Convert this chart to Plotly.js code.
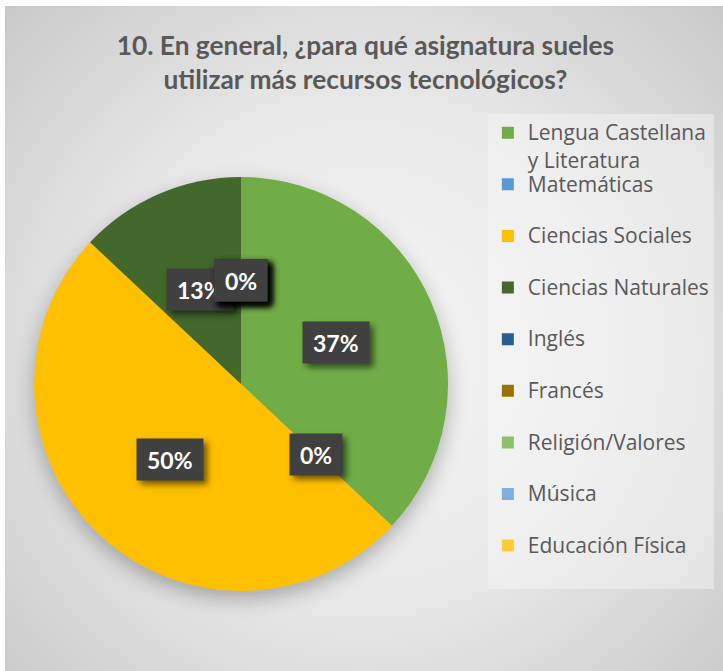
<!DOCTYPE html>
<html>
<head>
<meta charset="utf-8">
<script src="https://cdn.plot.ly/plotly-3.0.1.min.js"></script>
<style>
  html, body { margin: 0; padding: 0; background: #ffffff; }
  #chart {
    position: absolute; left: 5px; top: 6px; width: 718px; height: 665px;
    background: radial-gradient(ellipse 75% 80% at 50% 52%, #f6f6f6 0%, #e9e9e9 45%, #d2d2d2 80%, #c4c4c4 100%);
  }
  #chart .pielayer { filter: drop-shadow(0px 8px 10px rgba(0,0,0,0.28)); }
  #chart .annotation-text-g rect.bg { filter: drop-shadow(4px 4px 3px rgba(0,0,0,0.55)); }
</style>
</head>
<body>
<div id="chart"></div>
<script>
// ---- data ----
var categories = [
  "Lengua Castellana<br>y Literatura",
  "Matemáticas",
  "Ciencias Sociales",
  "Ciencias Naturales",
  "Inglés",
  "Francés",
  "Religión/Valores",
  "Música",
  "Educación Física"
];
var values = [37, 0, 50, 13, 0, 0, 0, 0, 0];
var colors = ["#70AD47", "#5B9BD5", "#FFC000", "#43682B", "#255E91", "#997300", "#8CC168", "#7CAFDD", "#FFCD33"];
var titleText = "10. En general, ¿para qué asignatura sueles<br>utilizar más recursos tecnológicos?";

// ---- geometry ----
var W = 718, H = 665;
var cx = 236, cyTop = 378, R = 207;
var cyUp = H - cyTop;
var domX = [(cx - R) / W, (cx + R) / W];
var domY = [(cyUp - R) / H, (cyUp + R) / H];

// legend labels: larger glyphs via span, blank second line for spacing
function big(s) { return "<span style='font-size:21px'>" + s + "</span>"; }
var legendLabels = categories.map(function (c) {
  var parts = c.split("<br>");
  if (parts.length > 1) {
    // wrapped label: push the second line a little lower
    return big(parts[0]) + "<br><sub>" + big(parts[1]) + "</sub>";
  }
  return big(c) + "<br> ";
});

var total = values.reduce(function (a, b) { return a + b; }, 0);
var annotations = [];
var cum = 0;
values.forEach(function (v, i) {
  var mid = (cum + v / 2) / total * 2 * Math.PI;
  cum += v;
  var px = cx + 0.5 * R * Math.sin(mid);
  var py = cyUp + 0.5 * R * Math.cos(mid);
  annotations.push({
    x: px / W, y: py / H, xref: "paper", yref: "paper",
    text: Math.round(v / total * 100) + "%",
    showarrow: false,
    font: { family: "Lato, 'Open Sans', sans-serif", size: 23, color: "#ffffff", weight: "bold" },
    bgcolor: "#404040",
    borderpad: 10,
    height: 21,
    xanchor: "center", yanchor: "middle"
  });
});

var trace = {
  type: "pie",
  labels: legendLabels,
  values: values,
  marker: { colors: colors, line: { width: 0 } },
  sort: false,
  direction: "clockwise",
  rotation: 0,
  textinfo: "none",
  hoverinfo: "none",
  domain: { x: domX, y: domY },
  showlegend: true
};

var layout = {
  width: W, height: H,
  margin: { l: 0, r: 0, t: 0, b: 0 },
  paper_bgcolor: "rgba(0,0,0,0)",
  plot_bgcolor: "rgba(0,0,0,0)",
  title: {
    text: titleText,
    font: { family: "Lato, 'Open Sans', sans-serif", size: 26.3, color: "#595959", weight: "bold" },
    x: 0.502, xanchor: "center",
    y: 1 - 49 / H, yanchor: "top", yref: "container"
  },
  legend: {
    x: 0.6725, xanchor: "left",
    y: 1 - 108 / H, yanchor: "top",
    valign: "top",
    bgcolor: "rgba(248,248,248,0.45)",
    font: { family: "'Open Sans', sans-serif", size: 18.7, color: "#595959" },
    traceorder: "normal"
  },
  annotations: annotations
};

Plotly.newPlot("chart", [trace], layout, { staticPlot: true, displayModeBar: false });
</script>
</body>
</html>
